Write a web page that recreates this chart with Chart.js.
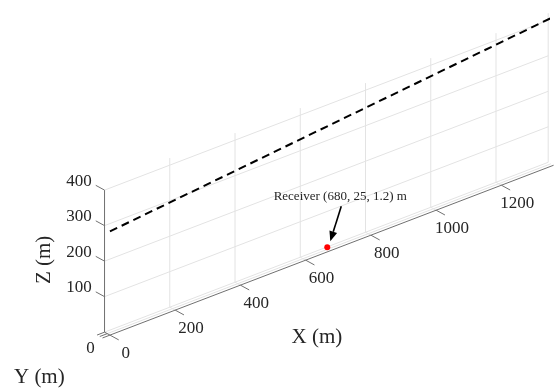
<!DOCTYPE html>
<html>
<head>
<meta charset="utf-8">
<script src="https://cdn.jsdelivr.net/npm/chart.js@4.4.1/dist/chart.umd.min.js"></script>
<style>
  html, body { margin: 0; padding: 0; background: #fff; }
  #wrap { width: 554px; height: 392px; }
</style>
</head>
<body>
<div id="wrap"><canvas id="c" width="554" height="392"></canvas></div>
<script>
// axis limits and ticks (m)
const X_LIM = [0, 1360];
const Y_LIM = [0, 30];
const Z_LIM = [0, 420];
const X_TICKS = [0, 200, 400, 600, 800, 1000, 1200];
const Y_TICKS = [0, 15, 30];
const Y_TICK_LABELS = ['0', '', ''];
const Z_TICKS = [100, 200, 300, 400];

// dashed line
const LINE_X = [0, 1360];
const LINE_Y = [0, 0];
const LINE_Z = [292, 418];

// receiver
const RX = [680];
const RY = [25];
const RZ = [1.2];
const RECEIVER_TEXT = 'Receiver (680, 25, 1.2) m';

// orthographic view: screen (u, v) per metre of x, y, z
const VIEW = { ex: [0.331, 0.1275], ey: [-0.183, 0.1], ez: [0, 0.3625] };
const proj = (x, y, z) => ({
  x: x * VIEW.ex[0] + y * VIEW.ey[0] + z * VIEW.ez[0],
  y: x * VIEW.ex[1] + y * VIEW.ey[1] + z * VIEW.ez[1]
});

const lineData = LINE_X.map((x, i) => proj(x, LINE_Y[i], LINE_Z[i]));
const recData = RX.map((x, i) => proj(x, RY[i], RZ[i]));

const GRID = '#e3e3e3';
const AXIS = '#707070';
const TXT = '#262626';
const FONT = '"Liberation Serif", "Times New Roman", serif';

// grid, axes, ticks and labels of the 3-D box
const axes3d = {
  id: 'axes3d',
  beforeDatasetsDraw(chart) {
    const ctx = chart.ctx;
    const sx = chart.scales.x, sy = chart.scales.y;
    const px = (x, y, z) => { const p = proj(x, y, z); return [sx.getPixelForValue(p.x), sy.getPixelForValue(p.y)]; };
    const seg = (a, b, color, w) => {
      ctx.beginPath(); ctx.moveTo(a[0], a[1]); ctx.lineTo(b[0], b[1]);
      ctx.strokeStyle = color; ctx.lineWidth = w; ctx.stroke();
    };
    const unit = (v) => { const l = Math.hypot(v[0], v[1]); return [v[0] / l, v[1] / l]; };
    const dirY = unit([VIEW.ey[0], -VIEW.ey[1]]);   // +y on screen
    const dirX = unit([VIEW.ex[0], -VIEW.ex[1]]);   // +x on screen
    const yB = Y_LIM[1], zTop = Math.max(...Z_TICKS);

    ctx.save();
    // back wall (y = ymax)
    Z_TICKS.forEach(z => seg(px(X_LIM[0], yB, z), px(X_LIM[1], yB, z), GRID, 1));
    X_TICKS.slice(1).concat([X_LIM[1]]).forEach(x => seg(px(x, yB, Z_LIM[0]), px(x, yB, Z_LIM[1]), GRID, 1));
    // floor
    Y_TICKS.slice(1).forEach(y => seg(px(X_LIM[0], y, 0), px(X_LIM[1], y, 0), GRID, 1));
    X_TICKS.forEach(x => seg(px(x, Y_LIM[0], 0), px(x, Y_LIM[1], 0), GRID, 1));

    // axis lines
    seg(px(X_LIM[0], Y_LIM[0], 0), px(X_LIM[1], Y_LIM[0], 0), AXIS, 1);
    seg(px(X_LIM[0], Y_LIM[0], 0), px(X_LIM[0], Y_LIM[1], 0), AXIS, 1);
    seg(px(X_LIM[0], yB, Z_LIM[0]), px(X_LIM[0], yB, zTop), AXIS, 1);

    ctx.fillStyle = TXT;
    ctx.font = '17px ' + FONT;
    ctx.textBaseline = 'middle';

    // x ticks
    ctx.textAlign = 'center';
    X_TICKS.forEach(x => {
      const a = px(x, Y_LIM[0], 0);
      const b = [a[0] - dirY[0] * 10, a[1] - dirY[1] * 10];
      seg(a, b, AXIS, 1);
      ctx.fillText(String(x), b[0] + 7, b[1] + 14);
    });
    // z ticks
    ctx.textAlign = 'right';
    Z_TICKS.forEach(z => {
      const a = px(X_LIM[0], yB, z);
      const b = [a[0] + dirY[0] * 10, a[1] + dirY[1] * 10];
      seg(a, b, AXIS, 1);
      ctx.fillText(String(z), b[0] - 4, b[1] - 4);
    });
    // y ticks
    ctx.textAlign = 'center';
    Y_TICKS.forEach((y, i) => {
      const a = px(X_LIM[0], y, 0);
      const b = [a[0] - dirX[0] * 8, a[1] - dirX[1] * 8];
      seg(a, b, AXIS, 1);
      if (Y_TICK_LABELS[i]) ctx.fillText(Y_TICK_LABELS[i], b[0] - 12, b[1] + 11);
    });

    // axis titles
    const W = chart.width, H = chart.height;
    ctx.font = '21px ' + FONT;
    ctx.textAlign = 'center';
    ctx.fillText('X (m)', W * 0.572, H * 0.862);
    ctx.fillText('Y (m)', W * 0.071, H * 0.962);
    ctx.translate(W * 0.080, H * 0.663);
    ctx.rotate(-Math.PI / 2);
    ctx.fillText('Z (m)', 0, 0);
    ctx.restore();
  },
  afterDatasetsDraw(chart) {
    const ctx = chart.ctx;
    const sx = chart.scales.x, sy = chart.scales.y;
    const r = [sx.getPixelForValue(recData[0].x), sy.getPixelForValue(recData[0].y)];
    const tip = [r[0] + 3, r[1] - 6], tail = [r[0] + 14, r[1] - 41];
    ctx.save();
    ctx.strokeStyle = '#000';
    ctx.fillStyle = '#000';
    ctx.lineWidth = 1.6;
    const ang = Math.atan2(tip[1] - tail[1], tip[0] - tail[0]);
    const hl = 10, hw = 4;
    const base = [tip[0] - Math.cos(ang) * hl, tip[1] - Math.sin(ang) * hl];
    ctx.beginPath(); ctx.moveTo(tail[0], tail[1]); ctx.lineTo(base[0], base[1]); ctx.stroke();
    ctx.beginPath();
    ctx.moveTo(tip[0], tip[1]);
    ctx.lineTo(base[0] + Math.sin(ang) * hw, base[1] - Math.cos(ang) * hw);
    ctx.lineTo(base[0] - Math.sin(ang) * hw, base[1] + Math.cos(ang) * hw);
    ctx.closePath(); ctx.fill();
    ctx.font = '13px ' + FONT;
    ctx.fillStyle = TXT;
    ctx.textAlign = 'center';
    ctx.textBaseline = 'middle';
    ctx.fillText(RECEIVER_TEXT, r[0] + 13, r[1] - 51);
    ctx.restore();
  }
};

new Chart(document.getElementById('c'), {
  type: 'scatter',
  data: {
    datasets: [
      { label: 'line', data: lineData, showLine: true, borderColor: '#000', borderWidth: 2,
        borderDash: [8, 5], pointRadius: 0, fill: false },
      { label: 'Receiver', data: recData, pointRadius: 3, backgroundColor: '#ff0000', borderColor: '#ff0000', borderWidth: 0 }
    ]
  },
  options: {
    responsive: false,
    animation: false,
    devicePixelRatio: 1,
    events: [],
    layout: { padding: 0 },
    plugins: { legend: { display: false }, tooltip: { enabled: false } },
    scales: {
      x: { type: 'linear', display: false, min: -107.5, max: 446.5 },
      y: { type: 'linear', display: false, min: -54, max: 338 }
    }
  },
  plugins: [axes3d]
});
</script>
</body>
</html>
